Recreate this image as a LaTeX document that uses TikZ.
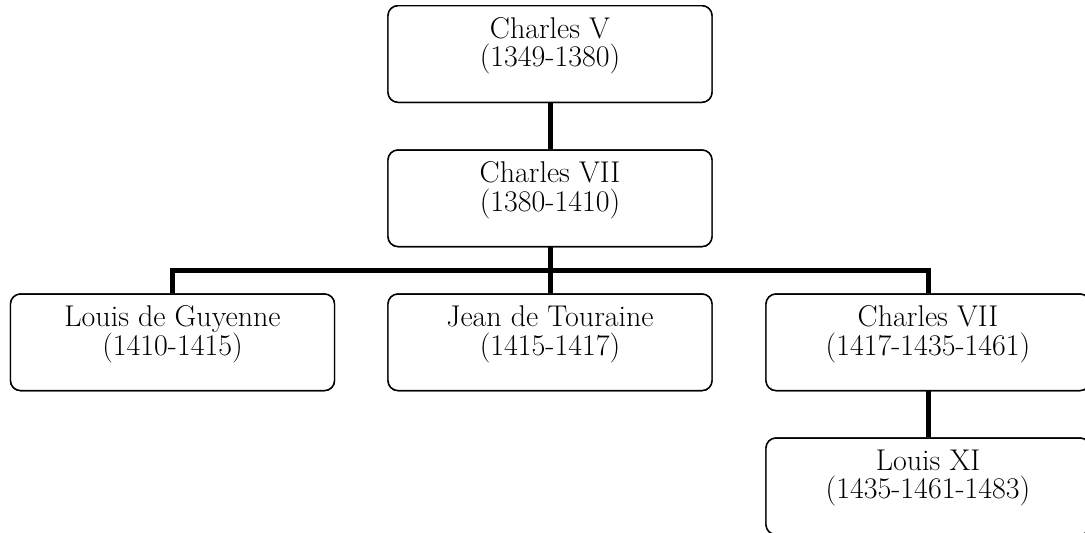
\documentclass[tikz,border=0pt]{standalone}
\begin{document}
\begin{tikzpicture}[x=0.75pt,y=-0.75pt,
  box/.style={draw=black,line width=1.1pt,rounded corners=7.5pt,rectangle,
    minimum width=243pt,minimum height=72.4pt,inner sep=0pt,fill=white},
  txt/.style={anchor=north,align=center,inner sep=0pt,font=\fontsize{22.5}{21.5}\selectfont,yshift=-9pt},
  conn/.style={line width=3.75pt,line join=miter}]
\useasboundingbox (0,0) rectangle (1085,532);
\clip (0,0) rectangle (1085,532);
\coordinate (bar) at (550,270);
\node[box] (cv) at (550,54) {};
\node[box] (c7) at (550,198.3) {};
\node[box] (lg) at (172.5,342.3) {};
\node[box] (jt) at (550,342.3) {};
\node[box] (c7b) at (928,342.3) {};
\node[box] (lxi) at (928,486.3) {};
% connectors
\draw[conn] (cv.south) -- (c7.north);
\draw[conn] (c7.south) -- (bar);
\draw[conn] (lg.north) -- (lg.north |- bar) -- (c7b.north |- bar) -- (c7b.north);
\draw[conn] (jt.north) -- (jt.north |- bar);
\draw[conn] (c7b.south) -- (lxi.north);
% redraw boxes on top of connectors
\node[box] at (cv) {};
\node[box] at (c7) {};
\node[box] at (lg) {};
\node[box] at (jt) {};
\node[box] at (c7b) {};
\node[box] at (lxi) {};
% texts
\node[txt] (cvt) at (cv.north) {Charles V\\(1349-1380)};
\node[txt] (c7t) at (c7.north) {Charles VII\\(1380-1410)};
\node[txt] (lgt) at (lg.north) {Louis de Guyenne\\(1410-1415)};
\node[txt] (jtt) at (jt.north) {Jean de Touraine\\(1415-1417)};
\node[txt] (c7bt) at (c7b.north) {Charles VII\\(1417-1435-1461)};
\node[txt] (lxit) at (lxi.north) {Louis XI\\(1435-1461-1483)};
\end{tikzpicture}
\end{document}
